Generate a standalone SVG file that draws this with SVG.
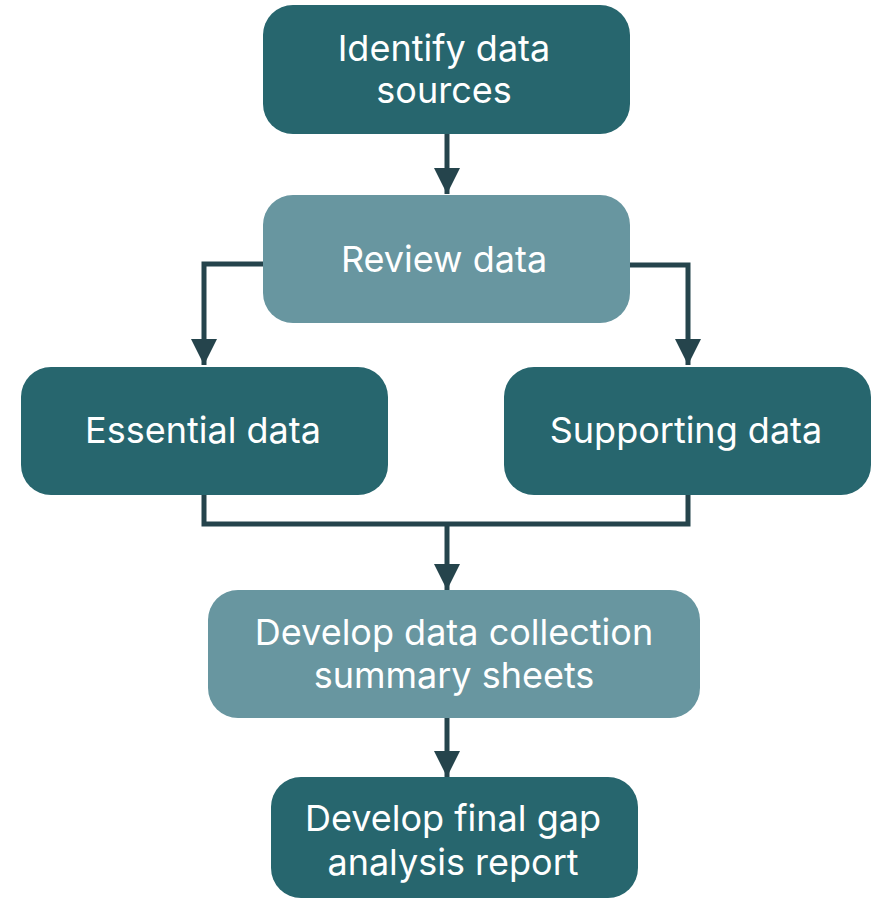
<svg xmlns="http://www.w3.org/2000/svg" width="871" height="901" viewBox="0 0 871 901">
<defs>
<style>
.dark{fill:#27666E}
.light{fill:#6896A0}
.t{fill:#FFFFFF;font-family:Inter,"Noto Sans",sans-serif;font-size:36px;text-anchor:middle}
.c{fill:none;stroke:#25444C;stroke-width:5}
</style>
<marker id="ah" viewBox="0 0 10 10" refX="10" refY="5" markerWidth="6" markerHeight="5.2" markerUnits="strokeWidth" orient="auto">
<path d="M0,0 L10,5 L0,10 Z" fill="#25444C"/>
</marker>
</defs>
<rect width="871" height="901" fill="#FFFFFF"/>
<g id="connectors">
<path class="c" d="M447,134 V194" marker-end="url(#ah)"/>
<path class="c" d="M263,264 H204 V365" marker-end="url(#ah)"/>
<path class="c" d="M630,265 H688 V365" marker-end="url(#ah)"/>
<path class="c" d="M204,495 V524 H688 V495"/>
<path class="c" d="M447,524 V590" marker-end="url(#ah)"/>
<path class="c" d="M447,718 V777" marker-end="url(#ah)"/>
</g>
<g id="identify">
<rect class="dark" x="263" y="5" width="367" height="129" rx="30"/>
<text class="t" x="444" y="61">Identify data</text>
<text class="t" x="444" y="103">sources</text>
</g>
<g id="review">
<rect class="light" x="263" y="195" width="367" height="128" rx="30"/>
<text class="t" x="444" y="272">Review data</text>
</g>
<g id="essential">
<rect class="dark" x="21" y="367" width="367" height="128" rx="30"/>
<text class="t" x="203" y="443">Essential data</text>
</g>
<g id="supporting">
<rect class="dark" x="504" y="367" width="367" height="128" rx="30"/>
<text class="t" x="686" y="443">Supporting data</text>
</g>
<g id="collection">
<rect class="light" x="208" y="590" width="492" height="128" rx="30"/>
<text class="t" x="454" y="645">Develop data collection</text>
<text class="t" x="454" y="688">summary sheets</text>
</g>
<g id="final">
<rect class="dark" x="271" y="777" width="367" height="121" rx="30"/>
<text class="t" x="453" y="831">Develop final gap</text>
<text class="t" x="453" y="875">analysis report</text>
</g>
</svg>
